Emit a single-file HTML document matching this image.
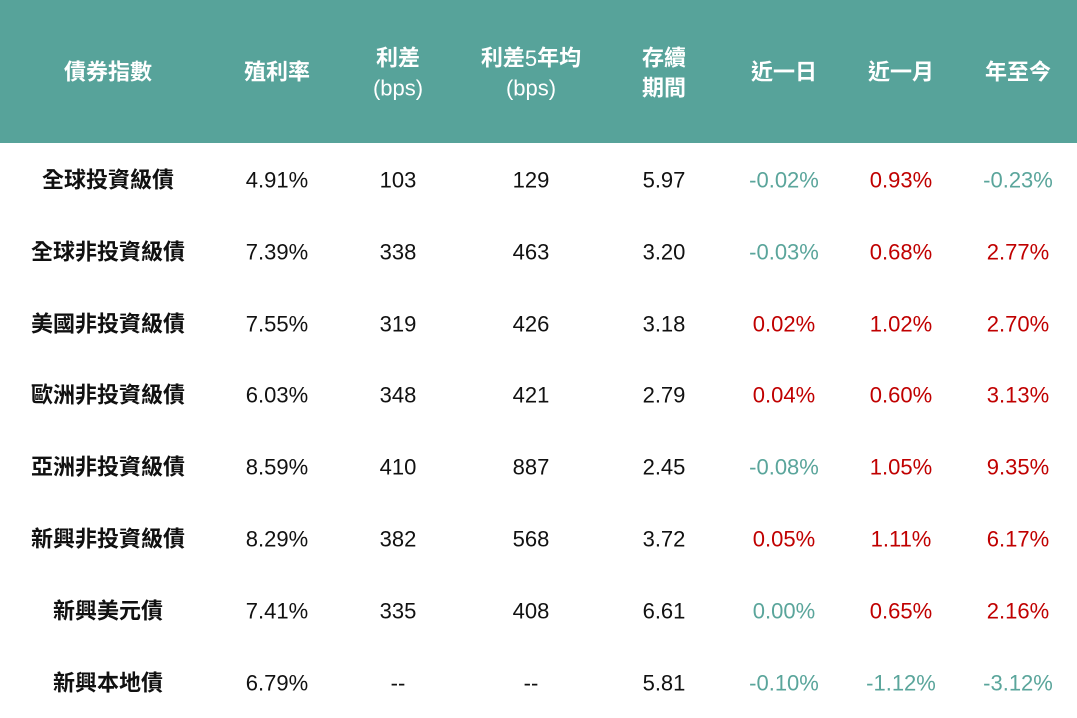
<!DOCTYPE html>
<html><head><meta charset="utf-8"><style>
html,body{margin:0;padding:0;background:#fff;}
svg{display:block;}
text{font-family:"Liberation Sans","Noto Sans CJK TC",sans-serif;font-size:22px;text-anchor:middle;dominant-baseline:central;}
.h{fill:#fff;font-weight:bold;}
.hn{fill:#fff;font-weight:normal;}
.n{fill:#111;}
.b{fill:#111;font-weight:bold;}
.g{fill:#5aa59b;}
.r{fill:#c00000;}
</style></head><body>
<svg width="1077" height="718" xmlns="http://www.w3.org/2000/svg">
<rect x="0" y="0" width="1077" height="143" fill="#57a39a"/>
<text class="h" x="108" y="72">債券指數</text>
<text class="h" x="277" y="72">殖利率</text>
<text class="h" x="398" y="58">利差</text><text class="hn" x="398" y="88">(bps)</text>
<text class="h" x="531" y="58">利差<tspan font-weight="normal">5</tspan>年均</text><text class="hn" x="531" y="88">(bps)</text>
<text class="h" x="664" y="58">存續</text><text class="h" x="664" y="88">期間</text>
<text class="h" x="784" y="72">近一日</text>
<text class="h" x="901" y="72">近一月</text>
<text class="h" x="1018" y="72">年至今</text>

<g>
<text class="b" x="108" y="180">全球投資級債</text><text class="n" x="277" y="180">4.91%</text><text class="n" x="398" y="180">103</text><text class="n" x="531" y="180">129</text><text class="n" x="664" y="180">5.97</text><text class="g" x="784" y="180">-0.02%</text><text class="r" x="901" y="180">0.93%</text><text class="g" x="1018" y="180">-0.23%</text>
<text class="b" x="108" y="252">全球非投資級債</text><text class="n" x="277" y="252">7.39%</text><text class="n" x="398" y="252">338</text><text class="n" x="531" y="252">463</text><text class="n" x="664" y="252">3.20</text><text class="g" x="784" y="252">-0.03%</text><text class="r" x="901" y="252">0.68%</text><text class="r" x="1018" y="252">2.77%</text>
<text class="b" x="108" y="324">美國非投資級債</text><text class="n" x="277" y="324">7.55%</text><text class="n" x="398" y="324">319</text><text class="n" x="531" y="324">426</text><text class="n" x="664" y="324">3.18</text><text class="r" x="784" y="324">0.02%</text><text class="r" x="901" y="324">1.02%</text><text class="r" x="1018" y="324">2.70%</text>
<text class="b" x="108" y="395">歐洲非投資級債</text><text class="n" x="277" y="395">6.03%</text><text class="n" x="398" y="395">348</text><text class="n" x="531" y="395">421</text><text class="n" x="664" y="395">2.79</text><text class="r" x="784" y="395">0.04%</text><text class="r" x="901" y="395">0.60%</text><text class="r" x="1018" y="395">3.13%</text>
<text class="b" x="108" y="467">亞洲非投資級債</text><text class="n" x="277" y="467">8.59%</text><text class="n" x="398" y="467">410</text><text class="n" x="531" y="467">887</text><text class="n" x="664" y="467">2.45</text><text class="g" x="784" y="467">-0.08%</text><text class="r" x="901" y="467">1.05%</text><text class="r" x="1018" y="467">9.35%</text>
<text class="b" x="108" y="539">新興非投資級債</text><text class="n" x="277" y="539">8.29%</text><text class="n" x="398" y="539">382</text><text class="n" x="531" y="539">568</text><text class="n" x="664" y="539">3.72</text><text class="r" x="784" y="539">0.05%</text><text class="r" x="901" y="539">1.11%</text><text class="r" x="1018" y="539">6.17%</text>
<text class="b" x="108" y="611">新興美元債</text><text class="n" x="277" y="611">7.41%</text><text class="n" x="398" y="611">335</text><text class="n" x="531" y="611">408</text><text class="n" x="664" y="611">6.61</text><text class="g" x="784" y="611">0.00%</text><text class="r" x="901" y="611">0.65%</text><text class="r" x="1018" y="611">2.16%</text>
<text class="b" x="108" y="683">新興本地債</text><text class="n" x="277" y="683">6.79%</text><text class="n" x="398" y="683">--</text><text class="n" x="531" y="683">--</text><text class="n" x="664" y="683">5.81</text><text class="g" x="784" y="683">-0.10%</text><text class="g" x="901" y="683">-1.12%</text><text class="g" x="1018" y="683">-3.12%</text>
</g>
</svg>
</body></html>
